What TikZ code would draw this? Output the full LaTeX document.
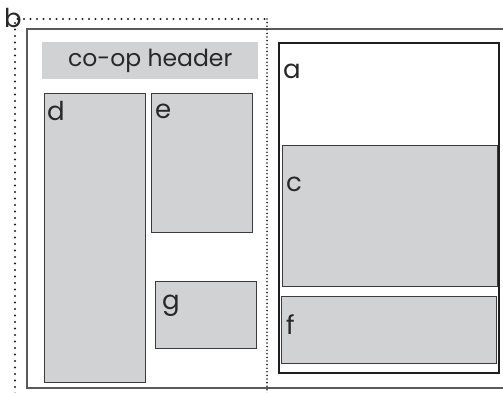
\documentclass[tikz,border=0pt]{standalone}
\usepackage{fontspec}
\setmainfont{Poppins}
\usetikzlibrary{positioning}
\definecolor{cBoxFill}{RGB}{209, 210, 212}
\definecolor{cBoxDraw}{RGB}{60, 60, 62}
\definecolor{cPageDraw}{RGB}{90, 90, 92}
\definecolor{cMainDraw}{RGB}{30, 30, 32}
\definecolor{cText}{RGB}{40, 40, 42}
\tikzset{
    % --- blocks ---
    baseBlock/.style={
        rectangle, inner sep=0pt, anchor=north west
    },
    styleBox/.style={baseBlock, draw=cBoxDraw, fill=cBoxFill, line width=1.1pt},
    styleHeader/.style={baseBlock, fill=cBoxFill, text=cText, font=\fontsize{23.5}{26}\selectfont},
    styleMain/.style={baseBlock, draw=cMainDraw, line width=2.4pt},
    % --- letters ---
    styleLetter/.style={inner sep=0pt, anchor=base west, text=cText, font=\fontsize{26}{30}\selectfont},
    % --- frames ---
    stylePage/.style={draw=cPageDraw, line width=1.1pt},
    styleBleed/.style={draw=cMainDraw, line width=2.3pt, line cap=round, dash pattern=on 0pt off 6.5pt}
}

\begin{document}
\begin{tikzpicture}[x=1pt, y=-1pt]

    \useasboundingbox (0,0) rectangle (503,393);
    \clip (0,0) rectangle (503,393);

    % page frame
    \draw [stylePage] (27,29) rectangle (512,388);

    % left column
    \node [styleHeader, minimum width=216pt, minimum height=37pt] (header) at (42,42) {co-op header};
    \node [styleBox, minimum width=101pt, minimum height=289pt] (d) at (44,93) {};
    \node [styleBox, minimum width=101pt, minimum height=139pt] (e) at (151,93) {};
    \node [styleBox, minimum width=101pt, minimum height=67pt] (g) at (155,281) {};

    % right column
    \node [styleMain, minimum width=220pt, minimum height=330pt] (a) at (278,42) {};
    \node [styleBox, minimum width=215pt, minimum height=141pt] (c) at (282,145) {};
    \node [styleBox, minimum width=215pt, minimum height=67pt] (f) at (281,296) {};

    % letters
    \node [styleLetter] (aText) at (283,79) {a};
    \node [styleLetter] (cText) at (286,191) {c};
    \node [styleLetter] (fText) at (286,334) {f};
    \node [styleLetter] (dText) at (47,121) {d};
    \node [styleLetter] (eText) at (155,119) {e};
    \node [styleLetter] (gText) at (162,309) {g};

    % bleed frame
    \draw [styleBleed] (15,400) -- (15,19) -- (267,19);
    \draw [styleBleed, line width=1.8pt, dash pattern=on 0pt off 3.6pt] (267,19) -- (267,400);
    \node [styleLetter] (bText) at (4,28) {b};

\end{tikzpicture}
\end{document}
